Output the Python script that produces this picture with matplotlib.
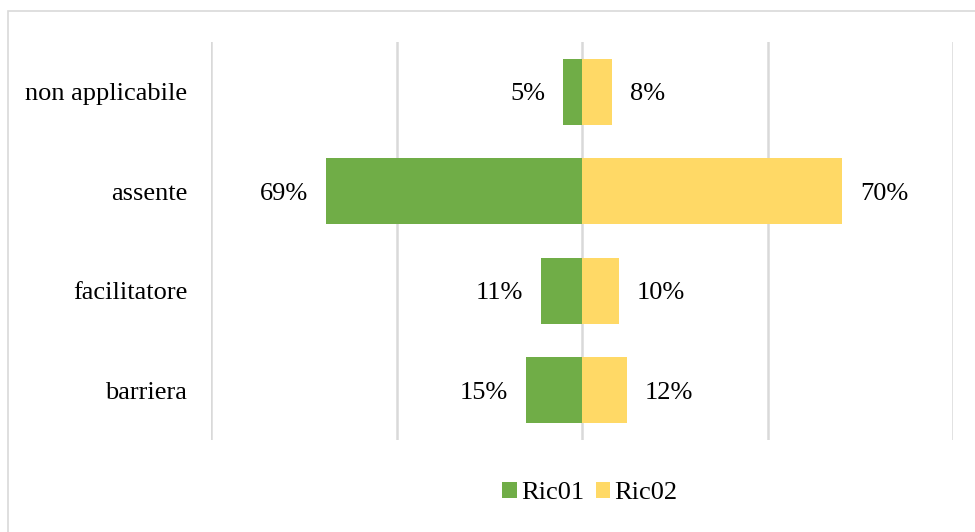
import numpy as np
import matplotlib.pyplot as plt
from matplotlib.patches import Rectangle

plt.rcParams['font.family'] = ['Liberation Serif', 'DejaVu Serif']

categorie = ['non applicabile', 'assente', 'facilitatore', 'barriera']
ric01 = [5, 69, 11, 15]
ric02 = [8, 70, 10, 12]
serie = ['Ric01', 'Ric02']

VERDE = '#70AD47'
GIALLO = '#FFD966'
GRIGIO = '#D9D9D9'
FS = 19

fig = plt.figure(figsize=(9.75, 5.32), dpi=100)
ax = fig.add_axes([211 / 975, 1 - 440 / 532, (953 - 211) / 975, (440 - 42) / 532])

# cornice esterna del grafico
fig.patches.append(Rectangle((7.5 / 975, -0.1), 1.2, 1 - 10.5 / 532 + 0.1,
                             transform=fig.transFigure, fill=False,
                             edgecolor=GRIGIO, linewidth=1.2))

y = np.arange(len(categorie))
b1 = ax.barh(y, [-v for v in ric01], height=0.66, color=VERDE, label=serie[0], zorder=3)
b2 = ax.barh(y, ric02, height=0.66, color=GIALLO, label=serie[1], zorder=3)

for yi, v in zip(y, ric01):
    ax.annotate(f'{v}%', (-v, yi), xytext=(-13, 0), textcoords='offset points',
                ha='right', va='center_baseline', fontsize=FS)
for yi, v in zip(y, ric02):
    ax.annotate(f'{v}%', (v, yi), xytext=(13, 0), textcoords='offset points',
                ha='left', va='center_baseline', fontsize=FS)

ax.set_xlim(-100, 100)
ax.set_ylim(len(categorie) - 0.5, -0.5)
ax.set_xticks([-100, -50, 0, 50, 100])
ax.set_xticklabels([])
ax.set_yticks(y)
ax.set_yticklabels(categorie, fontsize=FS, va='center_baseline')
ax.tick_params(axis='both', length=0)
ax.tick_params(axis='y', pad=17)
ax.grid(axis='x', color=GRIGIO, linewidth=1.8, zorder=0)
for s in ax.spines.values():
    s.set_visible(False)

ax.legend(loc='center', bbox_to_anchor=(590 / 975, 1 - 493 / 532),
          bbox_transform=fig.transFigure, ncol=2, frameon=False,
          fontsize=FS, handlelength=0.55, handleheight=0.55,
          handletextpad=0.15, columnspacing=0.45)

fig.savefig('out.png', dpi=100)
